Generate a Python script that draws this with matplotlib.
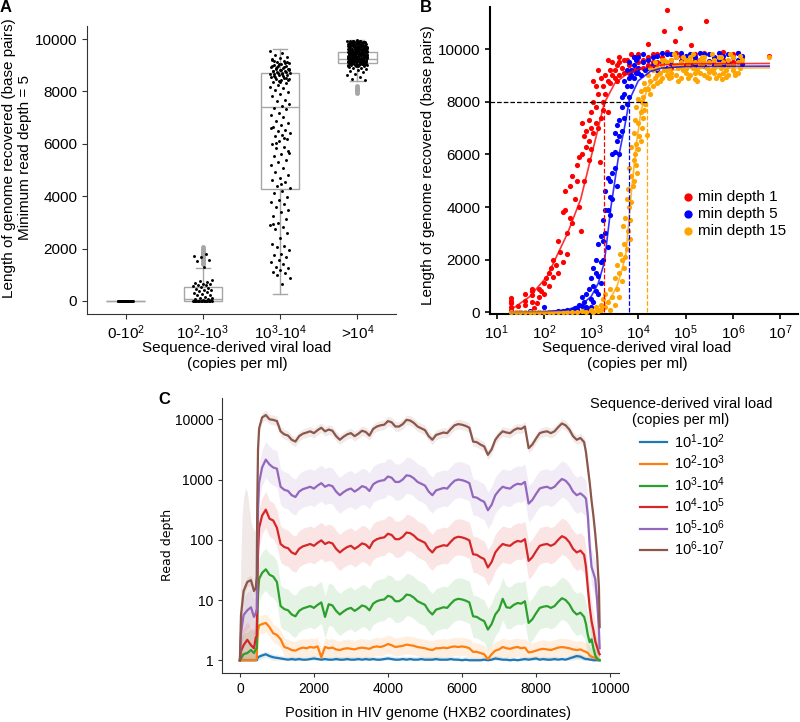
import matplotlib
matplotlib.use("Agg")
import matplotlib.pyplot as plt
import numpy as np
from matplotlib.ticker import NullLocator, FixedLocator

plt.rcParams['font.family'] = ['Liberation Sans', 'DejaVu Sans']
plt.rcParams['mathtext.default'] = 'regular'

# ---------------- panel A data ----------------
a_cats = ['0-$10^{2}$', '$10^{2}$-$10^{3}$', '$10^{3}$-$10^{4}$', '>$10^{4}$']
a_q1 = [0, 0, 4260, 9070]
a_med = [0, 90, 7420, 9235]
a_q3 = [0, 535, 8690, 9515]
a_lo = [0, 0, 270, 8410]
a_hi = [0, 1260, 9620, 9960]
a_fliers = [[], [1400, 1450, 1520, 1580, 1640, 1700, 1760, 1820, 1880, 1940, 2000, 2050],
            [], [7950, 8000, 8050, 8100, 8150, 8210]]

a_g0 = [0, 0, 0, 0, 0, 0, 0, 0, 0, 0, 0, 0, 0, 0, 0, 0, 0, 0, 0, 0, 0, 0]
a_g1 = [0, 0, 0, 0, 0, 0, 0, 0, 0, 0, 0, 0, 0, 0, 0, 10, 25, 40, 60, 80, 110, 130, 160,
        210, 240, 270, 310, 330, 360, 400, 430, 460, 490, 520, 560, 590, 610, 640, 660,
        700, 730, 770, 800, 1300, 1520, 1560, 1680, 1730, 1800]
a_g2 = [9560, 9470, 9390, 9320, 9260, 9210, 9170, 9120, 9090, 9060, 9010, 8990, 8960,
        8920, 8880, 8870, 8840, 8810, 8790, 8770, 8740, 8720, 8700, 8660, 8630, 8610,
        8560, 8520, 8490, 8470, 8420, 8380, 8310, 8260, 8180, 8120, 8040, 7980, 7890,
        7820, 7690, 7620, 7530, 7460, 7380, 7320, 7190, 7110, 7020, 6880, 6790, 6720,
        6630, 6540, 6480, 6420, 6330, 6290, 6180, 6110, 5980, 5890, 5830, 5660, 5610,
        5520, 5380, 5310, 5190, 5060, 4930, 4820, 4690, 4610, 4560, 4380, 4320, 4190,
        4140, 3980, 3870, 3790, 3720, 3580, 3490, 3380, 3260, 3130, 2980, 2890, 2830,
        2760, 2580, 2410, 2190, 2110, 2040, 1960, 1810, 1740, 1690, 1580, 1490, 1420,
        1290, 1240, 1180, 1120, 1060, 990, 880, 640,
        9180, 9140, 9030, 8980, 8930, 8900, 8860, 8830, 8780, 8750, 8690, 8650, 8580,
        8540, 8440, 8350, 9250, 9100, 8950, 8820, 8680, 8600, 8500, 8410, 6590, 6210,
        6050, 5740, 4470, 2930]
a_g3 = [9940, 9910, 9890, 9880, 9860, 9850, 9830, 9820, 9810, 9790, 9780, 9770, 9760,
        9740, 9730, 9720, 9710, 9690, 9680, 9670, 9660, 9650, 9630, 9620, 9610, 9600,
        9590, 9580, 9560, 9550, 9540, 9530, 9520, 9510, 9500, 9480, 9470, 9460, 9450,
        9440, 9430, 9420, 9400, 9390, 9380, 9370, 9360, 9350, 9340, 9330, 9310, 9300,
        9290, 9280, 9270, 9260, 9250, 9230, 9220, 9210, 9200, 9190, 9180, 9170, 9150,
        9140, 9130, 9120, 9110, 9100, 9090, 9070, 9060, 9050, 9040, 9030, 9020, 9010,
        9000, 8990, 8960, 8940, 8910, 8890, 8860, 8820, 8780, 8730, 8680, 8610, 8540,
        8460, 8420, 9860, 9700, 9560, 9410, 9320, 9240, 9160, 9080, 9480, 9620, 9750,
        9925, 9895, 9845, 9805, 9765, 9725, 9685, 9645, 9605, 9565, 9525, 9485, 9445,
        9405, 9365, 9325, 9285, 9245, 9205, 9165, 9125, 9085, 9045, 9005, 9915, 9835,
        9755, 9675, 9595, 9515, 9435, 9355, 9275, 9195, 9115, 9035, 9870, 9790, 9710,
        9630, 9550, 9470, 9390, 9310, 9230, 9150, 9070, 9870, 9640, 9420, 9190,
        9905, 9875, 9825, 9795, 9745, 9705, 9665, 9625, 9585, 9545, 9505, 9465, 9425,
        9385, 9345, 9305, 9265, 9225, 9185, 9145, 9105, 9065, 9025, 8985, 9935, 9855,
        9775, 9695, 9615, 9535, 9455, 9375, 9295, 9215, 9135, 9055, 9015, 9895, 9815,
        9735, 9655, 9575, 9495, 9415, 9335, 9255, 9175, 9095, 9950, 9760, 9580, 9340,
        9120, 8970, 9860, 9680, 9500, 9260, 9040, 9930, 9720, 9540, 9380, 9160]

# ---------------- panel B data (log10 viral load, genome length) ----------------
b_red = [(1.3, 100), (1.3, 200), (1.3, 350), (1.3, 450), (1.3, 550), (1.3, 0), (1.45, 250),
         (1.6, 300), (1.6, 700), (1.6, 450), (1.75, 400), (1.75, 800), (1.75, 650), (1.75, 900),
         (1.8, 150), (1.85, 350), (1.9, 600), (1.9, 900), (1.95, 800), (2.0, 1100), (2.0, 700),
         (2.05, 1300), (2.1, 1000), (2.1, 1500), (2.15, 1700), (2.2, 1350), (2.2, 2000),
         (2.25, 1800), (2.3, 2700), (2.3, 1500), (2.35, 2300), (2.4, 3800), (2.4, 1900),
         (2.45, 3900), (2.45, 4600), (2.5, 3000), (2.5, 2200), (2.55, 3600), (2.55, 4800),
         (2.6, 3400), (2.6, 5200), (2.65, 4300), (2.7, 5000), (2.78, 3100), (2.7, 5600),
         (2.75, 5900), (2.75, 4000), (2.8, 6000), (2.8, 7200), (2.85, 5000), (2.9, 6300),
         (2.9, 6900), (2.95, 5800), (2.95, 6500), (3.0, 7000), (3.0, 6200), (3.0, 7600),
         (3.05, 8000), (3.05, 6800), (3.1, 7800), (3.19, 5700), (3.1, 8600), (3.15, 8300),
         (3.15, 7000), (3.2, 8900), (3.2, 7400), (3.25, 8000), (3.25, 7700), (3.3, 9000),
         (3.3, 8300), (3.35, 8800), (3.35, 9600), (3.4, 9200), (3.4, 8700), (3.45, 9500),
         (3.5, 8900), (3.5, 9200), (3.55, 9400), (3.6, 9000), (3.6, 9700), (3.65, 9300),
         (3.7, 9100), (3.75, 9600), (3.8, 9400), (3.85, 9800), (3.9, 9200), (3.95, 9700),
         (4.0, 9500), (4.1, 9300), (4.2, 9700), (4.2, 10200), (4.3, 9500), (4.4, 9800),
         (4.5, 9400), (4.55, 10700), (4.6, 11500), (4.7, 9600), (4.78, 10300), (4.88, 10800),
         (4.9, 9500), (5.0, 9700), (5.1, 9400), (5.12, 10150), (5.2, 9800), (5.3, 9600),
         (5.43, 11050), (5.5, 9500), (5.6, 9700), (5.8, 9600), (6.0, 9800), (6.2, 9700),
         (6.77, 9730),
         (3.45, 9000), (3.55, 8800), (3.6, 9500), (3.7, 9600), (3.8, 9100), (3.9, 9700),
         (4.0, 9800), (4.1, 9600), (4.2, 9400), (4.3, 9800), (4.4, 9500), (4.5, 9700),
         (4.6, 9900), (4.7, 9300), (4.8, 9850), (4.9, 9750), (5.0, 9400), (5.2, 9600),
         (5.4, 9850), (5.6, 9450), (5.8, 9900), (6.0, 9500), (6.1, 9850), (3.25, 8600),
         (3.15, 9200), (3.1, 7200), (3.05, 8800), (2.95, 7300), (2.85, 6700), (3.35, 7600)]
b_blue = [(1.3, 0), (1.5, 0), (1.7, 50), (1.9, 0), (2.0, 200), (2.1, 30), (2.2, 0), (2.3, 50),
          (2.4, 60), (2.5, 80), (2.55, 20), (2.6, 100), (2.65, 150), (2.7, 120), (2.75, 300),
          (2.8, 250), (2.8, 600), (2.85, 400), (2.9, 700), (2.9, 200), (2.95, 900), (3.0, 500),
          (3.0, 1300), (3.05, 1000), (3.05, 1700), (3.1, 800), (3.1, 2000), (3.15, 1400),
          (3.15, 2600), (3.2, 1100), (3.2, 2900), (3.25, 2000), (3.25, 3500), (3.3, 3000),
          (3.3, 4600), (3.35, 3900), (3.35, 2500), (3.4, 5000), (3.4, 3700), (3.45, 6000),
          (3.45, 4300), (3.5, 5500), (3.5, 6800), (3.55, 6500), (3.55, 4800), (3.6, 7300),
          (3.6, 6000), (3.65, 7800), (3.65, 6900), (3.7, 8300), (3.7, 7400), (3.75, 8600),
          (3.75, 7900), (3.8, 8900), (3.8, 8200), (3.85, 9200), (3.85, 8600), (3.9, 9400),
          (3.9, 8900), (3.95, 9600), (3.95, 9100), (4.0, 9300), (4.0, 9700), (4.05, 9000),
          (4.1, 9500), (4.15, 9200), (4.2, 9600), (4.3, 9400), (4.4, 9750), (4.5, 9500),
          (4.6, 9800), (4.7, 9450), (4.8, 9700), (4.9, 9550), (5.0, 9750), (5.1, 9500),
          (5.2, 9700), (5.3, 9600), (5.4, 9800), (5.5, 9550), (5.6, 9700), (5.7, 9600),
          (5.8, 9750), (5.9, 9500), (6.0, 9700), (6.1, 9600), (6.2, 9750),
          (3.0, 200), (3.05, 400), (3.1, 1500), (3.15, 700), (3.2, 1900), (3.25, 2700),
          (3.3, 3900), (3.35, 5100), (3.4, 4400), (3.45, 5300), (3.5, 6100), (3.55, 7100),
          (3.6, 6700), (3.65, 8200), (3.7, 8800), (3.75, 9200), (3.8, 9500), (3.85, 9000),
          (3.9, 9700), (4.0, 9100), (4.1, 9800), (4.2, 9300), (4.3, 9700), (4.4, 9200),
          (4.5, 9850), (4.6, 9300), (4.7, 9800), (4.8, 9400), (4.9, 9850), (5.0, 9300),
          (5.1, 9800), (5.2, 9400), (5.3, 9850), (5.4, 9350), (5.5, 9800), (5.6, 9450),
          (5.7, 9850), (5.8, 9400), (5.9, 9800), (6.0, 9400), (6.1, 9850), (6.2, 9450),
          (2.95, 100), (2.85, 50), (2.7, 0), (2.5, 0), (2.3, 0), (2.0, 0)]
b_orange = [(1.3, 0), (1.4, 0), (1.5, 0), (1.6, 0), (1.7, 0), (1.8, 0), (1.9, 0), (2.0, 0),
            (2.1, 0), (2.2, 0), (2.3, 0), (2.4, 0), (2.5, 0), (2.6, 0), (2.7, 0), (2.8, 50),
            (2.9, 0), (3.0, 100), (3.05, 0), (3.1, 200), (3.15, 50), (3.2, 300), (3.2, 100),
            (3.25, 500), (3.3, 200), (3.3, 700), (3.35, 400), (3.4, 900), (3.4, 100),
            (3.45, 600), (3.5, 1300), (3.5, 300), (3.55, 900), (3.55, 1800), (3.6, 1500),
            (3.6, 600), (3.62, 2200), (3.65, 1200), (3.65, 2000), (3.7, 2600), (3.7, 1700),
            (3.72, 3600), (3.75, 4300), (3.75, 2400), (3.78, 3100), (3.8, 5500), (3.8, 4000),
            (3.82, 2800), (3.85, 5200), (3.85, 6300), (3.88, 4800), (3.9, 6800), (3.9, 5800),
            (3.92, 7300), (3.95, 6400), (3.95, 7800), (3.98, 5300), (4.0, 7200), (4.0, 8100),
            (4.02, 6700), (4.05, 7600), (4.05, 8400), (4.08, 7000), (4.1, 8200), (4.1, 7400),
            (4.12, 8700), (4.15, 7900), (4.18, 6750), (4.2, 8500), (4.2, 9000), (4.25, 8800),
            (4.3, 8600), (4.3, 9200), (4.35, 8900), (4.4, 9300), (4.4, 8700), (4.45, 9100),
            (4.5, 9400), (4.5, 8900), (4.55, 9200), (4.6, 9500), (4.6, 9000), (4.65, 9300),
            (4.7, 9600), (4.7, 9100), (4.75, 9400), (4.8, 9000), (4.8, 9700), (4.85, 9300),
            (4.9, 9500), (4.9, 8900), (4.95, 9200), (5.0, 9600), (5.0, 9100), (5.05, 9400),
            (5.1, 9700), (5.1, 9000), (5.15, 9300), (5.2, 9500), (5.2, 8850), (5.25, 9200),
            (5.3, 9600), (5.3, 9100), (5.35, 9400), (5.4, 9700), (5.4, 9000), (5.45, 9300),
            (5.5, 9500), (5.5, 8900), (5.55, 9200), (5.6, 9600), (5.6, 9100), (5.65, 9400),
            (5.7, 9700), (5.7, 9000), (5.75, 9300), (5.78, 8880), (5.8, 9500), (5.85, 9200),
            (5.9, 9600), (5.9, 9000), (6.0, 9400), (6.0, 9700), (6.05, 9100), (6.1, 9500),
            (6.15, 9300), (6.2, 9600), (6.77, 9700),
            (4.25, 9300), (4.35, 9500), (4.45, 8800), (4.55, 9600), (4.65, 8900), (4.75, 9800),
            (4.85, 8800), (4.95, 9700), (5.05, 8900), (5.15, 9800), (5.25, 8800), (5.35, 9700),
            (5.45, 8950), (5.55, 9800), (5.65, 8900), (5.75, 9700), (5.85, 8950), (5.95, 9800),
            (6.05, 9000), (6.15, 9750), (4.4, 9000), (4.6, 9200), (4.8, 9400), (5.0, 9300),
            (5.2, 9100), (5.4, 9500), (5.6, 9300), (5.8, 9100), (6.0, 9200), (4.5, 9600),
            (4.7, 8950), (4.9, 9350), (5.1, 9550), (5.3, 9350), (5.5, 9150), (5.7, 9450),
            (5.9, 9350), (6.1, 9100), (3.68, 3300), (3.72, 2100), (3.78, 4700), (3.82, 3500),
            (3.85, 4200), (3.9, 5000), (3.92, 6000), (3.95, 5600), (4.0, 6200), (4.05, 6500),
            (4.08, 8000), (4.12, 7700), (4.15, 8500), (4.25, 8300)]
# fitted curves
fit_red = [(1.3, 150), (1.36, 170), (1.7, 600), (2.07, 1370), (2.5, 3000), (2.78, 4300),
           (3.0, 5900), (3.28, 7950), (3.5, 8700), (3.75, 9050), (4.0, 9250), (4.5, 9400),
           (5.0, 9440), (6.77, 9455)]
fit_blue = [(1.3, 0), (2.0, 20), (2.5, 100), (2.8, 300), (3.0, 600), (3.15, 1100),
            (3.28, 1900), (3.42, 4000), (3.57, 5800), (3.71, 7050), (3.81, 8070), (4.0, 8800),
            (4.25, 9150), (4.5, 9280), (5.0, 9340), (6.77, 9354)]
fit_orange = [(1.3, 0), (3.0, 20), (3.2, 150), (3.4, 500), (3.55, 1000), (3.65, 1600),
              (3.74, 2250), (3.85, 4530), (3.96, 6420), (4.06, 7680), (4.2, 8570),
              (4.49, 9140), (5.0, 9270), (6.77, 9290)]
thresholds = [3.28, 3.81, 4.18]   # log10 load where each fit reaches 8000 bp
b_names = ['min depth 1', 'min depth 5', 'min depth 15']

# ---------------- panel C data (log10 read depth) ----------------
c_pos = [0, 30, 100, 200, 300, 380, 430, 455, 470, 490, 520, 600, 700, 800, 900, 1000] \
    + list(range(1100, 9301, 100)) + [9350, 9400, 9450, 9500, 9550, 9600, 9650, 9700, 9719]

c_brown = [0.0, 0.75, 1.15, 1.3, 1.33, 1.15, 1.2, 1.4, 2.6, 3.5, 3.85, 4.03, 4.07, 4.0, 3.99, 3.97,
           3.80, 3.75, 3.73, 3.66, 3.63, 3.72, 3.76, 3.78, 3.80, 3.77,
           3.82, 3.86, 3.80, 3.83, 3.81, 3.72, 3.66, 3.71, 3.75, 3.77,
           3.72, 3.76, 3.81, 3.79, 3.73, 3.84, 3.88, 3.90, 3.91, 3.97,
           3.95, 3.88, 3.88, 3.92, 3.99, 3.98, 3.94, 3.88, 3.85, 3.82,
           3.72, 3.66, 3.74, 3.76, 3.78, 3.77, 3.84, 3.90, 3.92, 3.91,
           3.89, 3.86, 3.63, 3.62, 3.58, 3.55, 3.41, 3.50, 3.66, 3.74,
           3.80, 3.78, 3.77, 3.82, 3.85, 3.84, 3.88, 3.52, 3.58, 3.68,
           3.77, 3.79, 3.80, 3.77, 3.80, 3.87, 3.93, 3.90, 3.83, 3.72,
           3.66, 3.69, 3.62,
           3.45, 3.2, 2.95, 2.65, 2.4, 2.1, 1.75, 1.2, 0.55]
c_purple = [0.0, 0.45, 0.75, 0.83, 0.88, 0.72, 0.78, 0.85, 1.6, 2.5, 2.95, 3.2, 3.33, 3.25, 3.2, 3.18,
            2.88, 2.83, 2.81, 2.74, 2.71, 2.80, 2.84, 2.86, 2.88, 2.85,
            2.90, 2.94, 2.88, 2.91, 2.89, 2.80, 2.74, 2.79, 2.83, 2.85,
            2.80, 2.84, 2.89, 2.87, 2.81, 2.92, 2.96, 2.98, 2.99, 3.05,
            3.03, 2.96, 2.96, 3.00, 3.07, 3.06, 3.02, 2.96, 2.93, 2.90,
            2.80, 2.74, 2.82, 2.84, 2.86, 2.85, 2.92, 2.98, 3.00, 2.99,
            2.97, 2.94, 2.71, 2.70, 2.66, 2.63, 2.49, 2.58, 2.74, 2.82,
            2.88, 2.86, 2.85, 2.90, 2.93, 2.92, 2.96, 2.60, 2.66, 2.76,
            2.85, 2.87, 2.88, 2.85, 2.88, 2.95, 3.01, 2.98, 2.91, 2.80,
            2.74, 2.77, 2.72,
            2.68, 2.4, 1.9, 1.55, 1.45, 1.35, 1.0, 0.5, 0.2]
c_red = [0.0, 0.15, 0.25, 0.34, 0.25, 0.2, 0.38, 0.4, 1.0, 1.8, 2.2, 2.4, 2.5, 2.35, 2.32, 2.2,
         1.93, 1.88, 1.86, 1.79, 1.76, 1.85, 1.89, 1.91, 1.93, 1.90,
         1.95, 1.99, 1.93, 1.96, 1.94, 1.85, 1.79, 1.84, 1.88, 1.90,
         1.85, 1.89, 1.94, 1.92, 1.86, 1.97, 2.01, 2.03, 2.04, 2.10,
         2.08, 2.01, 2.01, 2.05, 2.12, 2.11, 2.07, 2.01, 1.98, 1.95,
         1.85, 1.79, 1.87, 1.89, 1.91, 1.90, 1.97, 2.03, 2.05, 2.04,
         2.02, 1.99, 1.76, 1.75, 1.71, 1.68, 1.54, 1.63, 1.79, 1.87,
         1.93, 1.91, 1.90, 1.95, 1.98, 1.97, 2.01, 1.65, 1.71, 1.81,
         1.90, 1.92, 1.93, 1.90, 1.93, 2.00, 2.06, 2.03, 1.96, 1.85,
         1.79, 1.82, 1.75,
         1.55, 1.2, 0.88, 0.65, 0.5, 0.32, 0.22, 0.12, 0.1]
c_green = [0.0, 0.03, 0.1, 0.12, 0.17, 0.12, 0.18, 0.2, 0.6, 1.1, 1.35, 1.45, 1.51, 1.42, 1.39, 1.3,
           0.90, 0.85, 0.83, 0.76, 0.73, 0.82, 0.86, 0.88, 0.90, 0.87,
           0.92, 0.96, 0.72, 0.93, 0.91, 0.82, 0.76, 0.81, 0.85, 0.87,
           0.82, 0.86, 0.91, 0.89, 0.83, 0.94, 0.98, 1.00, 1.01, 1.07,
           1.05, 0.98, 0.98, 1.02, 1.09, 1.08, 1.04, 0.98, 0.95, 0.92,
           0.82, 0.76, 0.84, 0.86, 0.88, 0.87, 0.94, 1.00, 1.02, 1.01,
           0.99, 0.96, 0.73, 0.72, 0.68, 0.65, 0.51, 0.60, 0.76, 0.84,
           1.02, 0.88, 0.87, 0.92, 0.95, 0.94, 0.98, 0.62, 0.68, 0.78,
           0.87, 0.89, 0.90, 0.87, 0.90, 0.97, 1.03, 1.00, 0.93, 0.82,
           0.76, 0.79, 0.72,
           0.6, 0.42, 0.3, 0.35, 0.2, 0.08, 0.03, 0.0, 0.0]
c_orange = [0, 0, 0, 0, 0, 0, 0, 0.02, 0.3, 0.5, 0.58, 0.6, 0.62, 0.55, 0.45, 0.42,
            0.35, 0.22, 0.20, 0.17, 0.16, 0.19, 0.21, 0.20, 0.22, 0.21,
            0.23, 0.05, 0.22, 0.20, 0.21, 0.18, 0.17, 0.19, 0.20, 0.19,
            0.18, 0.20, 0.21, 0.20, 0.19, 0.22, 0.23, 0.22, 0.24, 0.27,
            0.25, 0.22, 0.23, 0.24, 0.26, 0.25, 0.24, 0.22, 0.21, 0.20,
            0.18, 0.17, 0.20, 0.20, 0.21, 0.20, 0.22, 0.23, 0.22, 0.23,
            0.22, 0.20, 0.14, 0.14, 0.12, 0.10, 0.02, 0.10, 0.16, 0.18,
            0.22, 0.20, 0.19, 0.21, 0.22, 0.20, 0.21, 0.13, 0.14, 0.16,
            0.18, 0.19, 0.18, 0.17, 0.19, 0.21, 0.22, 0.21, 0.20, 0.18,
            0.17, 0.18, 0.15,
            0.14, 0.12, 0.08, 0.06, 0.05, 0.04, 0.02, 0.0, 0.0]
c_blue = [0, 0, 0, 0, 0, 0, 0, 0, 0.02, 0.05, 0.06, 0.08, 0.1, 0.07, 0.05, 0.04,
          0.03, 0.02, 0.01, 0.02, 0.01, 0.02, 0.01, 0.01, 0.02, 0.03,
          0.02, 0.01, 0.02, 0.01, 0.01, 0.02, 0.01, 0.01, 0.02, 0.01,
          0.01, 0.02, 0.01, 0.02, 0.01, 0.02, 0.01, 0.01, 0.02, 0.03,
          0.02, 0.01, 0.01, 0.02, 0.01, 0.02, 0.01, 0.01, 0.02, 0.01,
          0.01, 0.01, 0.02, 0.01, 0.01, 0.01, 0.02, 0.01, 0.01, 0.0,
          0.01, 0.0, 0.0, 0.0, 0.0, 0.01, 0.0, 0.01, 0.03, 0.02,
          0.01, 0.01, 0.0, 0.01, 0.0, 0.01, 0.02, 0.01, 0.02, 0.03,
          0.01, 0.02, 0.01, 0.01, 0.02, 0.01, 0.02, 0.01, 0.03, 0.05,
          0.07, 0.06, 0.03,
          0.02, 0.02, 0.01, 0.01, 0.0, 0.0, 0.0, 0.0, 0.0]
c_spread = [0.05, 0.15, 0.35, 0.3, 0.3, 0.08]   # half-width of shaded band (log10)
# low-load samples: wide shaded band at the 5' end
c_left_pos = [0, 20, 60, 100, 150, 200, 250, 300, 350, 400, 455]
c_left_hi = [0.3, 1.5, 2.4, 2.7, 2.85, 2.8, 2.55, 2.3, 2.2, 2.15, 2.1]
c_labels = ['$10^{1}$-$10^{2}$', '$10^{2}$-$10^{3}$', '$10^{3}$-$10^{4}$',
            '$10^{4}$-$10^{5}$', '$10^{5}$-$10^{6}$', '$10^{6}$-$10^{7}$']
c_colors = ['#1f77b4', '#ff7f0e', '#2ca02c', '#d62728', '#9467bd', '#8c564b']

FS = 11
fig = plt.figure(figsize=(8, 7.22), dpi=100)


def jitter(n, w):
    return (np.arange(n) * 0.618034 % 1 - 0.5) * 2 * w


# ================= A =================
axA = fig.add_axes([87 / 800, 1 - 314 / 722, 309 / 800, 288 / 722])
grey = '#a6a6a6'
stats = []
for i in range(4):
    stats.append(dict(q1=a_q1[i], med=a_med[i], q3=a_q3[i], whislo=a_lo[i], whishi=a_hi[i],
                      fliers=a_fliers[i]))
axA.bxp(stats, positions=range(4), widths=0.5, patch_artist=True, capwidths=0.18,
        boxprops=dict(facecolor='white', edgecolor=grey, lw=1),
        medianprops=dict(color=grey, lw=1), whiskerprops=dict(color=grey, lw=1),
        capprops=dict(color=grey, lw=1),
        flierprops=dict(marker='o', ms=3.5, mfc=grey, mec='none'))
for i, g in enumerate([a_g0, a_g1, a_g2, a_g3]):
    w = 0.1 if i == 0 else 0.13
    axA.scatter(i + jitter(len(g), w), g, s=4.5, c='black', lw=0, zorder=4)
axA.set_xlim(-0.5, 3.5)
axA.set_ylim(-500, 10500)
axA.set_xticks(range(4))
axA.set_xticklabels(a_cats)
axA.set_yticks([0, 2000, 4000, 6000, 8000, 10000])
for s in ['top', 'right']:
    axA.spines[s].set_visible(False)
for s in ['left', 'bottom']:
    axA.spines[s].set_color('#333333')
axA.tick_params(labelsize=FS, length=3.5, color='#333333')

fig.text(17 / 800, 1 - 158 / 722, 'Length of genome recovered (base pairs)\nMinimum read depth = 5',
         rotation=90, ha='center', va='center', fontsize=FS, multialignment='center')
fig.text(237 / 800, 1 - 356 / 722, 'Sequence-derived viral load\n(copies per ml)',
         ha='center', va='center', fontsize=FS, multialignment='center')

# ================= B =================
axB = fig.add_axes([490 / 800, 1 - 314 / 722, 308 / 800, 307 / 722])
b_cols = ['#ff0000', '#0000ff', '#ffa500']
for pts, col, name in zip([b_red, b_blue, b_orange], b_cols, b_names):
    lx, ly = zip(*pts)
    axB.scatter(10 ** np.array(lx), ly, s=14, color=col, lw=0, label=name, zorder=3)
for fit, col in zip([fit_red, fit_blue, fit_orange], b_cols):
    fx, fy = zip(*fit)
    axB.plot(10 ** np.array(fx), fy, color=col, lw=1.2, alpha=0.8, zorder=4)
axB.plot([10 ** 0.86, 10 ** thresholds[2]], [8000, 8000], ls='--', color='black', lw=0.9, zorder=5)
for t, col in zip(thresholds, b_cols):
    axB.plot([10 ** t, 10 ** t], [0, 8000], ls='--', color=col, lw=0.9, zorder=5)
axB.set_xscale('log')
axB.set_xlim(10 ** 0.86, 10 ** 7.38)
axB.set_ylim(-60, 11600)
axB.xaxis.set_major_locator(FixedLocator([10.0 ** k for k in range(1, 8)]))
axB.xaxis.set_minor_locator(NullLocator())
axB.set_yticks([0, 2000, 4000, 6000, 8000, 10000])
for s in ['top', 'right']:
    axB.spines[s].set_visible(False)
for s in ['left', 'bottom']:
    axB.spines[s].set_linewidth(1.5)
axB.tick_params(labelsize=FS, length=3.5, width=1.2)
axB.legend(loc='upper left', bbox_to_anchor=(683 / 800, 1 - 190 / 722),
           bbox_transform=fig.transFigure, frameon=False, fontsize=FS, markerscale=1.6,
           handlelength=0.6, handletextpad=0.35, labelspacing=0.2, borderpad=0,
           borderaxespad=0, scatterpoints=1)
fig.text(428 / 800, 1 - 165 / 722, 'Length of genome recovered (base pairs)',
         rotation=90, ha='center', va='center', fontsize=FS)
fig.text(637 / 800, 1 - 356 / 722, 'Sequence-derived viral load\n(copies per ml)',
         ha='center', va='center', fontsize=FS, multialignment='center')

# ================= C =================
axC = fig.add_axes([222.3 / 800, 1 - 673.3 / 722, 397 / 800, 275 / 722])
pos = np.array(c_pos)
axC.fill_between(c_left_pos, 1, 10 ** np.array(c_left_hi), color='#8c564b', alpha=0.13, lw=0)
series = [c_blue, c_orange, c_green, c_red, c_purple, c_brown]
for v, sp, col in zip(series, c_spread, c_colors):
    v = np.array(v)
    axC.fill_between(pos, np.maximum(10 ** (v - sp), 1), 10 ** (v + sp), color=col,
                     alpha=0.12, lw=0)
for v, col, lab in zip(series, c_colors, c_labels):
    axC.plot(pos, 10 ** np.array(v), color=col, lw=1.6, label=lab)
axC.set_yscale('log')
axC.set_xlim(-475, 10250)
axC.set_ylim(0.608, 22300)
axC.yaxis.set_major_locator(FixedLocator([1, 10, 100, 1000, 10000]))
axC.yaxis.set_minor_locator(NullLocator())
axC.set_yticklabels(['1', '10', '100', '1000', '10000'])
axC.set_xticks([0, 2000, 4000, 6000, 8000, 10000])
for s in ['top', 'right']:
    axC.spines[s].set_visible(False)
for s in ['left', 'bottom']:
    axC.spines[s].set_color('#333333')
axC.tick_params(labelsize=10, length=3, color='#333333')
axC.legend(loc='upper left', bbox_to_anchor=(640 / 800, 1 - 432 / 722),
           bbox_transform=fig.transFigure, frameon=False, fontsize=10.5,
           handlelength=1.85, handletextpad=0.45, labelspacing=0.2, borderpad=0,
           borderaxespad=0)
fig.text(681 / 800, 1 - 412 / 722, 'Sequence-derived viral load\n(copies per ml)',
         ha='center', va='center', fontsize=10.5, multialignment='center')
fig.text(167 / 800, 1 - 545 / 722, 'Read depth', rotation=90, ha='center', va='center',
         fontsize=9, family='DejaVu Sans')
fig.text(428 / 800, 1 - 713 / 722, 'Position in HIV genome (HXB2 coordinates)',
         ha='center', va='center', fontsize=10.5)

# panel letters
fig.text(6 / 800, 1 - 7 / 722, 'A', fontsize=12, fontweight='bold', ha='center', va='center')
fig.text(426 / 800, 1 - 7 / 722, 'B', fontsize=12, fontweight='bold', ha='center', va='center')
fig.text(164 / 800, 1 - 400 / 722, 'C', fontsize=12, fontweight='bold', ha='center', va='center')

fig.savefig('out.png', dpi=100)
